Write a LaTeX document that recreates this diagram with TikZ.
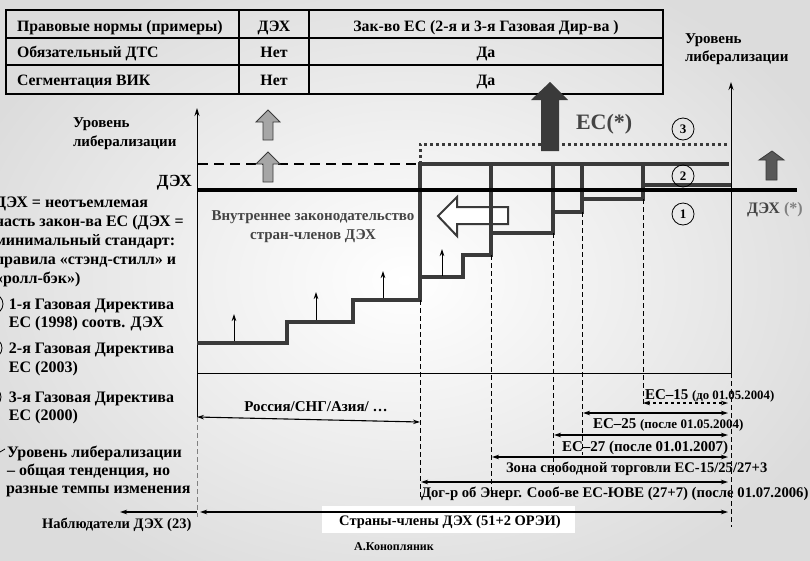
\documentclass[tikz,border=0pt]{standalone}
\usepackage{fontspec}
\setmainfont{Liberation Serif}
\usetikzlibrary{arrows.meta}
\definecolor{dk}{HTML}{3A3A3A}
\definecolor{txtgray}{HTML}{444444}
\definecolor{bgedge}{HTML}{DCDCDC}
\newcommand{\fs}[1]{\bfseries\fontsize{#1}{#1}\selectfont}
\tikzset{
  lbl/.style={inner sep=0pt, outer sep=0pt, font=\fs{16}},
  tbl/.style={line width=2.5pt},
  stair/.style={draw=dk, line width=4pt},
  thindash/.style={line width=0.8pt, dash pattern=on 5pt off 3pt},
  smallarr/.style={line width=0.8pt, -{Stealth[length=7pt,width=4.5pt]}},
  twohead/.style={line width=1.1pt, {Stealth[length=7pt,width=4.5pt]}-{Stealth[length=7pt,width=4.5pt]}},
  onehead/.style={line width=1.1pt, -{Stealth[length=7pt,width=4.5pt]}},
  numcirc/.style={circle, draw, line width=0.8pt, minimum size=22pt, inner sep=0pt, font=\fs{13}},
  blockarr/.style={draw=dk, line width=0.8pt}
}
\begin{document}
\begin{tikzpicture}[x=1pt,y=-1pt]
\useasboundingbox (0,0) rectangle (810,560);
\shade[inner color=white, outer color=bgedge] (-60,-60) rectangle (870,620);

% ---------- table ----------
\draw[tbl] (6,10) rectangle (663,94);
\draw[tbl] (6,38) -- (663,38) (6,65) -- (663,65) (239,10) -- (239,94) (309,10) -- (309,94);
\node[lbl, anchor=base west, font=\fs{15.8}] (t11) at (17,31) {Правовые нормы (примеры)};
\node[lbl, anchor=base, font=\fs{15.8}] (t12) at (274,31) {ДЭХ};
\node[lbl, anchor=base, font=\fs{15.8}] (t13) at (486,31) {Зак-во ЕС (2-я и 3-я Газовая Дир-ва )};
\node[lbl, anchor=base west, font=\fs{15.8}] (t21) at (17,57) {Обязательный ДТС};
\node[lbl, anchor=base, font=\fs{15.8}] (t22) at (274,57) {Нет};
\node[lbl, anchor=base, font=\fs{15.8}] (t23) at (486,57) {Да};
\node[lbl, anchor=base west, font=\fs{15.8}] (t31) at (17,85) {Сегментация ВИК};
\node[lbl, anchor=base, font=\fs{15.8}] (t32) at (274,85) {Нет};
\node[lbl, anchor=base, font=\fs{15.8}] (t33) at (486,85) {Да};

% ---------- axes ----------
\coordinate (laxB) at (197,417);
\coordinate (laxT) at (197,108);
\coordinate (laxE) at (197,517);
\coordinate (raxB) at (731,373);
\coordinate (raxT) at (731,82);
\coordinate (raxE) at (731,527);
\draw[line width=0.9pt, -{Stealth[length=8pt,width=5pt]}] (laxB) -- (laxT);
\draw[gray, line width=0.9pt, dash pattern=on 5pt off 3pt] (laxB) -- (laxE);
\draw[line width=0.9pt, -{Stealth[length=8pt,width=5pt]}] (raxB) -- (raxT);
\draw[thindash] (raxB) -- (raxE);
\draw[line width=0.9pt] (197,373) -- (raxB);

\node[lbl, anchor=base west, font=\fs{15}] (lvlL1) at (73,127) {Уровень};
\node[lbl, anchor=base west, font=\fs{15}] (lvlL2) at (73,146) {либерализации};
\node[lbl, anchor=base west, font=\fs{15}] (lvlR1) at (685,43) {Уровень};
\node[lbl, anchor=base west, font=\fs{15}] (lvlR2) at (685,61) {либерализации};
\node[lbl, anchor=base east, font=\fs{17}] (dexL) at (192,186) {ДЭХ};

% ---------- level lines ----------
\draw[line width=2pt, dash pattern=on 10pt off 6pt] (198,164) -- (420,164);
\draw[color=dk, line width=3pt, dash pattern=on 3pt off 3pt] (420,164) -- (420,144) -- (727,144);

% white left arrow
\draw[blockarr, line width=2pt, fill=white] (508,207) -- (457,207) -- (457,197) -- (438,216) -- (457,236) -- (457,224) -- (508,224) -- cycle;

% staircases
\draw[stair] (197,343) -- (287,343) -- (287,322) -- (353,322) -- (353,300) -- (420,300) -- (420,164) -- (729,164);
\draw[stair] (420,277) -- (463,277) -- (463,255) -- (491,255) -- (491,164);
\draw[stair] (491,233) -- (553,233) -- (553,164);
\draw[stair] (553,212) -- (582,212) -- (582,164);
\draw[stair] (582,199) -- (643,199) -- (643,164);
\draw[stair] (643,185) -- (731,185);
\draw[line width=4pt] (197,190) -- (797,190);

% thin dashed verticals
\draw[thindash] (420,300) -- (420,498);
\draw[thindash] (491,255) -- (491,497);
\draw[thindash] (553,233) -- (553,475);
\draw[thindash] (582,212) -- (582,455);
\draw[thindash] (643,199) -- (643,405);

% small arrows on steps
\draw[smallarr] (234,341) -- (234,314);
\draw[smallarr] (316,320) -- (316,292);
\draw[smallarr] (383,298) -- (383,271);
\draw[smallarr] (442,276) -- (442,249);

% block arrows
\draw[blockarr, fill=gray!70] (263,140) -- (263,122) -- (256,122) -- (268,110) -- (280,122) -- (273,122) -- (273,140) -- cycle;
\draw[blockarr, fill=gray!70] (263,182) -- (263,164) -- (256,164) -- (268,152) -- (280,164) -- (273,164) -- (273,182) -- cycle;
\fill[dk] (541,151) -- (541,100) -- (531,100) -- (550,82) -- (568,100) -- (559,100) -- (559,151) -- cycle;
\draw[blockarr, fill=dk!85] (766,180) -- (766,160) -- (759,160) -- (772,151) -- (784,160) -- (777,160) -- (777,180) -- cycle;

\node[lbl, anchor=base west, font=\fs{22}, text=txtgray] (ec) at (576,129) {ЕС(*)};
\node[lbl, anchor=base west, font=\fs{16}, text=txtgray] (dexR) at (747,213) {ДЭХ \textcolor{gray}{(*)}};
\node[lbl, anchor=base, font=\fs{15}, text=txtgray] (vn1) at (313,220) {Внутреннее законодательство};
\node[lbl, anchor=base, font=\fs{15}, text=txtgray] (vn2) at (313,239) {стран-членов ДЭХ};

\node[numcirc] (c3) at (683,129) {3};
\node[numcirc] (c2) at (683,176) {2};
\node[numcirc] (c1) at (683,214) {1};

% ---------- left legend ----------
\foreach \t/\y in {ДЭХ = неотъемлемая/207, часть закон-ва ЕС (ДЭХ =/226, минимальный стандарт:/245, правила «стэнд-стилл» и/264, «ролл-бэк»)/283}
  \node[lbl, anchor=base west] at (-5,\y) {\t};
\draw[line width=0.8pt] (-7,304) circle (10);
\draw[line width=0.8pt] (-8,348) circle (10);
\draw[line width=0.8pt] (-9,397) circle (10);
\draw[line width=0.8pt] (0,452) -- (5,449);
\node[lbl, anchor=base west] (g1a) at (9,309) {1-я Газовая Директива};
\node[lbl, anchor=base west] (g1b) at (9,327) {ЕС (1998) соотв. ДЭХ};
\node[lbl, anchor=base west] (g2a) at (9,353) {2-я Газовая Директива};
\node[lbl, anchor=base west] (g2b) at (9,372) {ЕС (2003)};
\node[lbl, anchor=base west] (g3a) at (9,402) {3-я Газовая Директива};
\node[lbl, anchor=base west] (g3b) at (9,420) {ЕС (2000)};
\node[lbl, anchor=base west] (g4a) at (7,457) {Уровень либерализации};
\node[lbl, anchor=base west] (g4b) at (7,475) {– общая тенденция, но};
\node[lbl, anchor=base west] (g4c) at (6,493) {разные темпы изменения};

% ---------- bottom ranges ----------
\coordinate (rusE) at (420,422);
\draw[twohead] (laxB) -- (rusE);
\node[lbl, anchor=base, font=\fs{15}] (rus) at (316,411) {Россия/СНГ/Азия/ …};

\coordinate (e15a) at (643,403); \coordinate (e15b) at (728,403);
\coordinate (e25a) at (583,413); \coordinate (e25b) at (728,413);
\coordinate (e27a) at (554,435); \coordinate (e27b) at (728,435);
\coordinate (zsta) at (492,457); \coordinate (zstb) at (728,457);
\coordinate (doga) at (421,482); \coordinate (dogb) at (728,482);
\coordinate (stra) at (200,512); \coordinate (strb) at (728,512);
\coordinate (nabS) at (197,512);
\coordinate (nabE) at (120,512);

\draw[twohead, dashed] (e15a) -- (e15b);
\draw[twohead] (e25a) -- (e25b);
\draw[twohead] (e27a) -- (e27b);
\draw[twohead] (zsta) -- (zstb);
\draw[twohead] (doga) -- (dogb);

\node[lbl, anchor=base west, font=\fs{15}] (t15) at (645,399) {ЕС–15 {\fs{12.8}(до 01.05.2004)}};
\node[lbl, anchor=base west, font=\fs{15}] (t25) at (593,428) {ЕС–25 {\fs{13}(после 01.05.2004)}};
\node[lbl, anchor=base west, font=\fs{15}] (t27) at (562,451) {ЕС–27 (после 01.01.2007)};
\node[lbl, anchor=base west, font=\fs{14.6}] (tzst) at (506,472) {Зона свободной торговли ЕС-15/25/27+3};
\node[lbl, anchor=base west, font=\fs{14.7}] (tdog) at (421,497) {Дог-р об Энерг. Сооб-ве ЕС-ЮВЕ (27+7) (после 01.07.2006)};

\fill[white] (322,506) rectangle (575,533);
\draw[twohead] (stra) -- (strb);
\draw[onehead] (nabS) -- (nabE);
\node[lbl, anchor=base, font=\fs{14.5}] (tstr) at (450,525) {Страны-члены ДЭХ (51+2 ОРЭИ)};
\node[lbl, anchor=base west, font=\fs{14.5}] (tnab) at (42,528) {Наблюдатели ДЭХ (23)};
\node[lbl, anchor=base, font=\fs{12}] (auth) at (394,550) {А.Конопляник};
\end{tikzpicture}
\end{document}
